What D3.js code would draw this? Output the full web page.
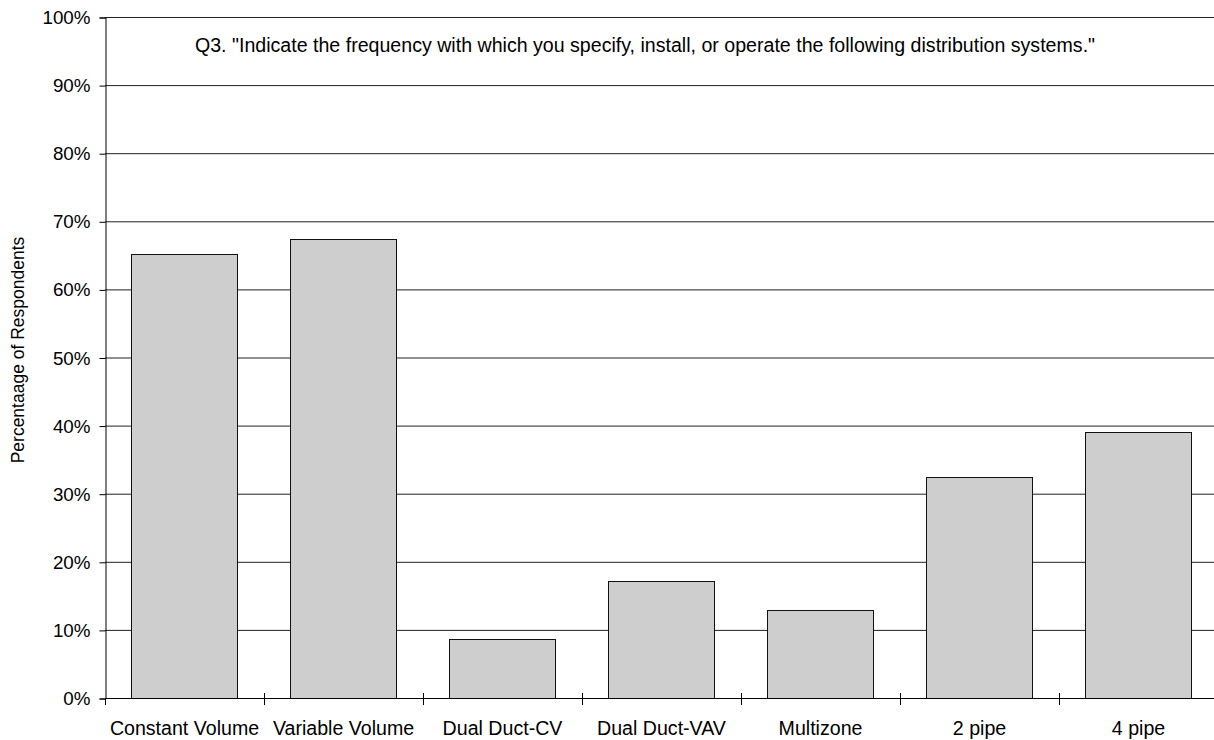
<!DOCTYPE html>
<html>
<head>
<meta charset="utf-8">
<script src="https://cdn.jsdelivr.net/npm/d3@7"></script>
<style>
  html, body { margin: 0; padding: 0; background: #fff; }
  svg { display: block; font-family: Arial, "Liberation Sans", sans-serif; }
</style>
</head>
<body>
<svg id="chart" width="1214" height="740"></svg>
<script>
// Distribution system usage by respondents
const categories = ["Constant Volume", "Variable Volume", "Dual Duct-CV", "Dual Duct-VAV", "Multizone", "2 pipe", "4 pipe"];
const values = [65.2, 67.4, 8.6, 17.2, 12.9, 32.5, 39.0];
const yTicks = [0, 10, 20, 30, 40, 50, 60, 70, 80, 90, 100];
const titleText = 'Q3. "Indicate the frequency with which you specify, install, or operate the following distribution systems."';
const yLabel = "Percentaage of Respondents";

const svg = d3.select("#chart");
const plotLeft = 105, plotRight = 1218, plotTop = 17, plotBottom = 698;

const x = d3.scaleBand().domain(categories).range([plotLeft, plotRight])
  .paddingInner(1 / 3).paddingOuter(1 / 6);
const xSlots = d3.scaleBand().domain(categories).range([plotLeft, plotRight]).padding(0);
const y = d3.scaleLinear().domain([0, 100]).range([plotBottom, plotTop]);

// horizontal gridlines
svg.append("g").selectAll("line").data(yTicks.filter(d => d > 0)).join("line")
  .attr("x1", plotLeft).attr("x2", plotRight)
  .attr("y1", d => y(d) + 0.5).attr("y2", d => y(d) + 0.5)
  .attr("stroke", "#222").attr("stroke-width", 1);

// bars
svg.append("g").selectAll("rect").data(categories).join("rect")
  .attr("x", d => Math.floor(x(d)) + 0.5)
  .attr("y", (d, i) => Math.round(y(values[i])) + 0.5)
  .attr("width", Math.round(x.bandwidth()))
  .attr("height", (d, i) => Math.round(y(0)) - Math.round(y(values[i])))
  .attr("fill", "#cecece").attr("stroke", "#111").attr("stroke-width", 1);

// y axis
const yAxis = d3.axisLeft(y).tickValues(yTicks).tickFormat(d => d + "%").tickSize(6).tickPadding(9);
const gy = svg.append("g").attr("transform", `translate(${plotLeft + 0.5},0.5)`).call(yAxis);
gy.select(".domain").attr("stroke", "#000");
gy.selectAll(".tick line").attr("stroke", "#000");
gy.selectAll(".tick text").attr("font-size", 18.8).attr("fill", "#000")
  .attr("font-family", "Arial, 'Liberation Sans', sans-serif");

// x axis: separators between categories crossing the baseline
const gx = svg.append("g");
gx.append("line").attr("x1", plotLeft).attr("x2", plotRight)
  .attr("y1", plotBottom + 0.5).attr("y2", plotBottom + 0.5).attr("stroke", "#000");
const bounds = categories.map(c => xSlots(c)).concat([plotRight]);
gx.selectAll("line.sep").data(bounds).join("line").attr("class", "sep")
  .attr("x1", d => Math.round(d) + 0.5).attr("x2", d => Math.round(d) + 0.5)
  .attr("y1", (d, i) => i === 0 ? plotBottom : plotBottom - 5).attr("y2", plotBottom + 7)
  .attr("stroke", "#000");
gx.selectAll("text").data(categories).join("text")
  .attr("x", d => xSlots(d) + xSlots.bandwidth() / 2)
  .attr("y", 735)
  .attr("text-anchor", "middle")
  .attr("font-size", 19.6)
  .attr("fill", "#000")
  .text(d => d);

// question text
svg.append("text").attr("x", 645).attr("y", 52).attr("text-anchor", "middle")
  .attr("font-size", 19.6).attr("fill", "#000").text(titleText);

// y axis title
svg.append("text")
  .attr("transform", `translate(24,350) rotate(-90)`)
  .attr("text-anchor", "middle").attr("font-size", 17.5).attr("fill", "#000")
  .text(yLabel);
</script>
</body>
</html>
